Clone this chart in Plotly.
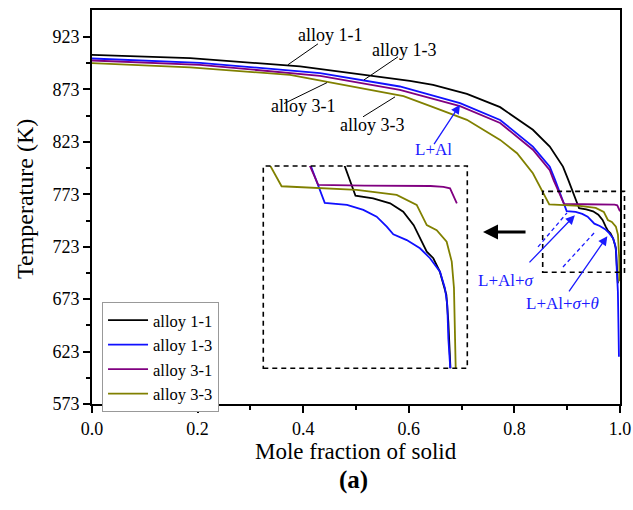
import plotly.graph_objects as go

# Scheil solidification curves: mole fraction of solid vs temperature (K)
series_names = ["alloy 1-1", "alloy 1-3", "alloy 3-1", "alloy 3-3"]
series_colors = ["#000000", "#1010ff", "#800080", "#808000"]

black_x = [0.000, 0.186, 0.394, 0.602, 0.646, 0.710, 0.773, 0.835, 0.867, 0.892, 0.902, 0.912,
           0.9225, 0.936, 0.949, 0.959, 0.967, 0.973, 0.977, 0.982, 0.987, 0.992, 0.9935, 0.995, 0.996]
black_T = [906.0, 902.9, 894.9, 881.2, 877.4, 868.8, 856.1, 834.5, 818.5, 799.4, 786.7, 774.1,
           759.7, 758.7, 756.8, 753.6, 748.5, 742.2, 738.4, 735.9, 730.8, 721.9, 711.7, 695.3, 688.0]

blue_x = [0.000, 0.2045, 0.432, 0.583, 0.697, 0.773, 0.835, 0.867, 0.877, 0.886, 0.899, 0.916,
          0.9285, 0.9387, 0.9464, 0.9514, 0.9617, 0.9718, 0.9795, 0.9871, 0.9909, 0.9927, 0.9935,
          0.9948, 0.996, 0.997, 0.998]
blue_T = [902.5, 898.4, 888.6, 875.8, 859.9, 843.9, 818.5, 799.4, 786.7, 774.1, 757.0, 756.2,
          754.3, 751.7, 747.9, 745.0, 742.8, 739.7, 735.9, 730.8, 724.5, 718.1, 705.4,
          695.3, 680.0, 650.0, 618.0]

purple_x = [0.000, 0.2045, 0.432, 0.583, 0.697, 0.773, 0.835, 0.867, 0.874, 0.894, 0.9295,
            0.9799, 0.9897, 0.9948, 0.9973, 1.000]
purple_T = [900.6, 896.5, 886.0, 872.5, 857.0, 841.0, 815.5, 796.0, 786.7, 763.8, 763.5,
            763.4, 763.1, 762.5, 760.0, 756.8]

olive_x = [0.000, 0.1856, 0.375, 0.590, 0.646, 0.710, 0.773, 0.805, 0.835, 0.854, 0.866, 0.9234,
           0.954, 0.9693, 0.977, 0.9846, 0.9922, 0.9961, 0.9978, 0.9986, 0.9991, 0.9993]
olive_T = [898.1, 894.1, 886.9, 866.5, 856.1, 844.0, 824.9, 812.2, 793.1, 774.1, 763.3, 761.9,
           760.0, 756.2, 748.5, 746.6, 742.2, 734.6, 724.6, 711.7, 695.3, 690.0]

series_x = [black_x, blue_x, purple_x, olive_x]
series_T = [black_T, blue_T, purple_T, olive_T]

x_ticks = [0.0, 0.2, 0.4, 0.6, 0.8, 1.0]
x_minor = [0.1, 0.3, 0.5, 0.7, 0.9]
y_ticks = [573, 623, 673, 723, 773, 823, 873, 923]
y_minor = [598, 648, 698, 748, 798, 848, 898]

# zoomed region (main axes) and where its magnified copy sits (paper coords)
zoom_x = [0.852, 1.008]
zoom_T = [694, 771]
box_x = [0.8536, 1.0085]
box_T = [698.7, 775.8]
inset_dom_x = [0.3244, 0.7108]
inset_dom_y = [0.0906, 0.604]

FONT = "Liberation Serif"
BLUE = "#1a1aff"

fig = go.Figure()
for name, xs, ts, col in zip(series_names, series_x, series_T, series_colors):
    fig.add_trace(go.Scatter(x=xs, y=ts, mode="lines", name=name,
                             line=dict(color=col, width=1.8)))
for name, xs, ts, col in zip(series_names, series_x, series_T, series_colors):
    fig.add_trace(go.Scatter(x=xs, y=ts, mode="lines", name=name, showlegend=False,
                             xaxis="x2", yaxis="y2", line=dict(color=col, width=1.8)))

axis_common = dict(showline=True, linecolor="black", linewidth=2, mirror=True,
                   ticks="outside", ticklen=7, tickwidth=2, tickcolor="black",
                   showgrid=False, zeroline=False, automargin=False,
                   tickfont=dict(family=FONT, size=18, color="black"))

shapes = [
    dict(type="rect", xref="paper", yref="y", x0=box_x[0], x1=box_x[1], y0=box_T[0], y1=box_T[1],
         line=dict(color="black", width=1.6, dash="5px,4px")),
    dict(type="rect", xref="paper", yref="paper", x0=inset_dom_x[0], x1=inset_dom_x[1],
         y0=inset_dom_y[0], y1=inset_dom_y[1], line=dict(color="black", width=1.6, dash="5px,4px")),
    # pointer lines for curve labels
    dict(type="line", xref="x", yref="y", x0=0.428, y0=916.5, x1=0.371, y1=896.5, line=dict(color="black", width=1)),
    dict(type="line", xref="x", yref="y", x0=0.5795, y0=904.1, x1=0.5152, y1=882.1, line=dict(color="black", width=1)),
    dict(type="line", xref="x", yref="y", x0=0.3636, y0=859.5, x1=0.4451, y1=879.5, line=dict(color="black", width=1)),
    dict(type="line", xref="x", yref="y", x0=0.5133, y0=846.9, x1=0.5739, y1=865.9, line=dict(color="black", width=1)),
    # dashed guides of the phase regions
    dict(type="line", xref="x", yref="y", x0=0.8447, y0=722.8, x1=0.8996, y1=755.3,
         line=dict(color=BLUE, width=1.3, dash="4px,3px")),
    dict(type="line", xref="x", yref="y", x0=0.892, y0=703.7, x1=0.9527, y1=737.1,
         line=dict(color=BLUE, width=1.3, dash="4px,3px")),
]

def label(x, y, text, color="black", size=18):
    return dict(x=x, y=y, xref="x", yref="y", text=text, showarrow=False,
                xanchor="center", yanchor="middle",
                font=dict(family=FONT, size=size, color=color))

def arrow(x, y, ax, ay, color, width, size, head=2):
    return dict(x=x, y=y, ax=ax, ay=ay, xref="x", yref="y", axref="x", ayref="y", text="",
                showarrow=True, arrowhead=head, arrowsize=size, arrowwidth=width, arrowcolor=color)

def paper_text(x, y, text, size, angle=0):
    return dict(x=x, y=y, xref="paper", yref="paper", text=text, showarrow=False,
                xanchor="center", yanchor="middle", textangle=angle,
                font=dict(family=FONT, size=size, color="black"))

annotations = [
    label(0.4508, 925.1, "alloy 1-1"),
    label(0.5909, 910.8, "alloy 1-3"),
    label(0.4015, 857.4, "alloy 3-1"),
    label(0.5303, 839.2, "alloy 3-3"),
    label(0.6477, 815.4, "L+Al", BLUE, 17),
    label(0.7841, 690.4, "L+Al+<i>σ</i>", BLUE, 17),
    label(0.8920, 668.4, "L+Al+<i>σ</i>+<i>θ</i>", BLUE, 17),
    arrow(0.697, 858.5, 0.646, 819.5, BLUE, 1.3, 1.4),
    arrow(0.9145, 753.0, 0.8258, 706.6, BLUE, 1.3, 1.4),
    arrow(0.976, 733.0, 0.9015, 678.9, BLUE, 1.3, 1.4),
    arrow(0.7405, 737.1, 0.8239, 737.1, "black", 3, 1.0),
    paper_text(0.5, -0.1218, "Mole fraction of solid", 23),
    paper_text(-0.1269, 0.5203, "Temperature (K)", 24, -90),
    paper_text(0.496, -0.1929, "<b>(a)</b>", 25),
]

fig.update_layout(
    width=633, height=510,
    margin=dict(l=92, r=13, t=10, b=106),
    paper_bgcolor="white", plot_bgcolor="white",
    font=dict(family=FONT, color="black"),
    xaxis=dict(range=[0, 1], tickvals=x_ticks, tickformat=".1f",
               minor=dict(tickvals=x_minor, ticklen=4, tickwidth=2, ticks="outside", tickcolor="black"),
               **axis_common),
    yaxis=dict(range=[573, 948.75], tickvals=y_ticks,
               minor=dict(tickvals=y_minor, ticklen=4, tickwidth=2, ticks="outside", tickcolor="black"),
               **axis_common),
    xaxis2=dict(domain=inset_dom_x, range=zoom_x, anchor="y2", visible=False),
    yaxis2=dict(domain=inset_dom_y, range=zoom_T, anchor="x2", visible=False),
    legend=dict(x=0.019, y=0.259, xanchor="left", yanchor="top",
                bordercolor="#999999", borderwidth=1, bgcolor="white",
                font=dict(family=FONT, size=16.5, color="black"), tracegroupgap=0, itemwidth=40),
    shapes=shapes,
    annotations=annotations,
    showlegend=True,
)

fig.write_html("out.html")
